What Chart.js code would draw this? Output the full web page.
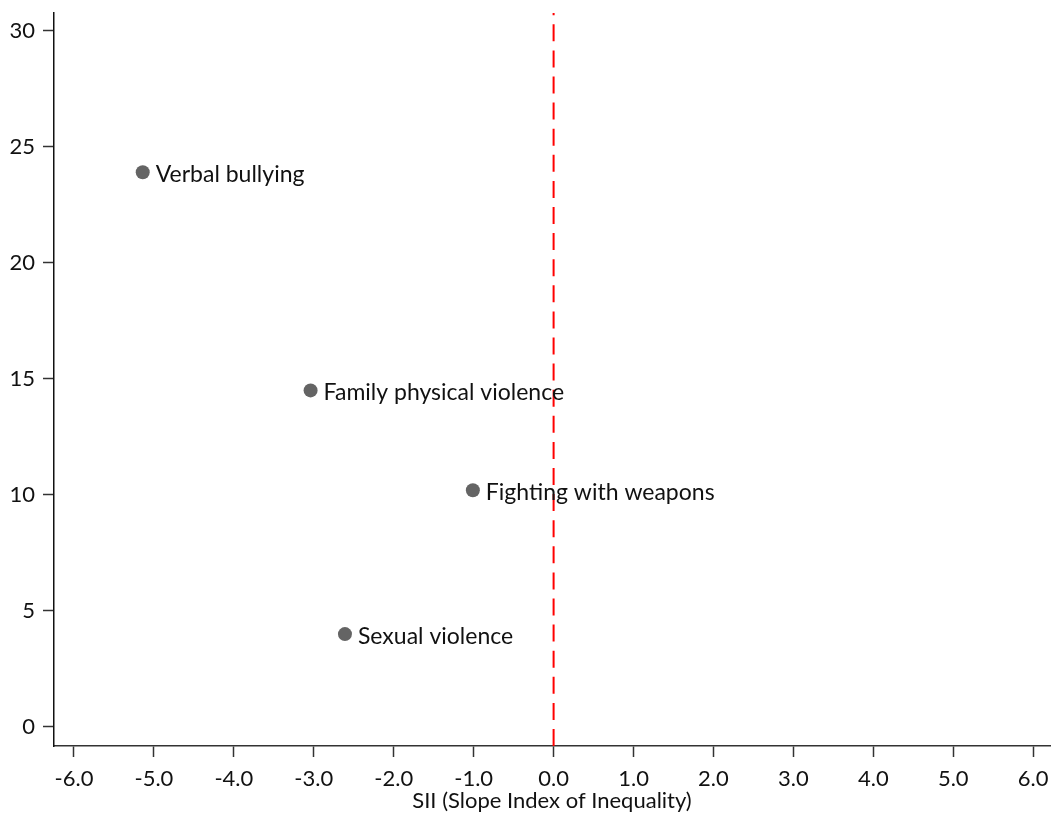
<!DOCTYPE html>
<html>
<head>
<meta charset="utf-8">
<script src="https://cdn.jsdelivr.net/npm/chart.js@4/dist/chart.umd.min.js"></script>
<style>
  html, body { margin: 0; padding: 0; background: #fff; }
  #wrap { width: 1051px; height: 814px; position: relative; }
</style>
</head>
<body>
<div id="wrap"><canvas id="chart"></canvas></div>
<script>
// Violence outcomes: slope index of inequality vs. prevalence (%)
const outcomes = ['Verbal bullying', 'Family physical violence', 'Fighting with weapons', 'Sexual violence'];
const siiValues = [-5.14, -3.04, -1.01, -2.61];
const prevalence = [23.9, 14.5, 10.2, 4.0];

const xTickValues = [-6, -5, -4, -3, -2, -1, 0, 1, 2, 3, 4, 5, 6];
const yTickValues = [0, 5, 10, 15, 20, 25, 30];

const xRange = [-6.25, 6.21];
const yRange = [-0.82, 30.76];

const FONT = 'Lato, "Open Sans", sans-serif';

// Writes each outcome's name to the right of its marker
const pointLabels = {
  id: 'pointLabels',
  afterDatasetsDraw(chart) {
    const meta = chart.getDatasetMeta(1);
    const ctx = chart.ctx;
    ctx.save();
    ctx.font = '23px ' + FONT;
    ctx.fillStyle = '#111';
    ctx.textAlign = 'left';
    ctx.textBaseline = 'middle';
    meta.data.forEach((pt, i) => {
      ctx.fillText(outcomes[i], pt.x + 13, pt.y + 2);
    });
    ctx.restore();
  }
};

new Chart(document.getElementById('chart'), {
  type: 'scatter',
  data: {
    datasets: [
      {
        // reference line at SII = 0
        type: 'line',
        data: [{ x: 0, y: yRange[0] }, { x: 0, y: yRange[1] }],
        borderColor: '#ff0000',
        borderWidth: 2,
        borderDash: [17, 9.1],
        pointRadius: 0,
        fill: false
      },
      {
        data: siiValues.map((x, i) => ({ x, y: prevalence[i] })),
        backgroundColor: '#646464',
        borderWidth: 0,
        pointRadius: 7,
        pointHoverRadius: 7
      }
    ]
  },
  options: {
    responsive: true,
    maintainAspectRatio: false,
    animation: false,
    layout: { autoPadding: false, padding: { top: 13, right: 1, left: 0, bottom: 0 } },
    plugins: {
      legend: { display: false },
      tooltip: { enabled: false }
    },
    scales: {
      x: {
        type: 'linear',
        min: xRange[0],
        max: xRange[1],
        afterBuildTicks: s => { s.ticks = xTickValues.map(v => ({ value: v })); },
        afterFit: s => { s.height = 68; s.paddingLeft = 0; s.paddingRight = 0; },
        grid: { drawOnChartArea: false, drawTicks: true, tickLength: 11, color: '#333', tickWidth: 1.5 },
        border: { display: true, color: '#333', width: 1.5 },
        ticks: {
          font: { family: FONT, size: 22 },
          color: '#111',
          padding: 9,
          maxRotation: 0,
          callback: v => v.toFixed(1)
        },
        title: {
          display: true,
          text: 'SII (Slope Index of Inequality)',
          font: { family: FONT, size: 22 },
          color: '#111',
          padding: { top: -6, bottom: 0 }
        }
      },
      y: {
        type: 'linear',
        min: yRange[0],
        max: yRange[1],
        afterBuildTicks: s => { s.ticks = yTickValues.map(v => ({ value: v })); },
        afterFit: s => { s.width = 54; s.paddingTop = 0; s.paddingBottom = 0; },
        grid: { drawOnChartArea: false, drawTicks: true, tickLength: 11, color: '#333', tickWidth: 1.5 },
        border: { display: true, color: '#111', width: 1.5 },
        ticks: {
          font: { family: FONT, size: 22 },
          color: '#111',
          padding: 8
        }
      }
    }
  },
  plugins: [pointLabels]
});
</script>
</body>
</html>
